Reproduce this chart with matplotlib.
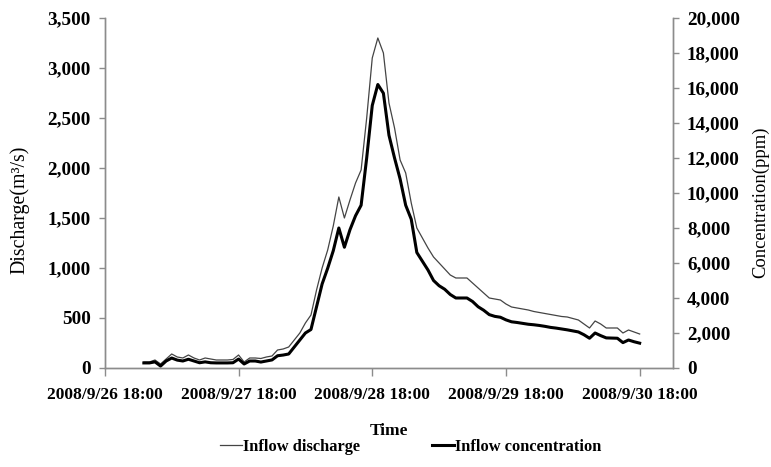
import matplotlib
matplotlib.use("Agg")
import matplotlib.pyplot as plt
import matplotlib.dates as mdates
from matplotlib.ticker import FuncFormatter, MultipleLocator
import pandas as pd

# hourly record, 2008/9/27 01:00 -> 2008/9/30 18:00
start_time = "2008-09-27 01:00"

discharge = [60, 60, 80, 40, 90, 140, 110, 100, 130, 100,
             80, 100, 90, 80, 80, 80, 85, 130, 60, 100,
             100, 95, 110, 120, 180, 190, 210, 280, 350, 450,
             530, 780, 1000, 1180, 1420, 1710, 1500, 1680, 1850, 1980,
             2500, 3100, 3300, 3150, 2650, 2400, 2080, 1950, 1650, 1400,
             1300, 1200, 1110, 1050, 990, 930, 900, 900, 900, 850,
             800, 750, 700, 690, 680, 640, 610, 600, 590, 580,
             565, 555, 545, 535, 525, 515, 510, 495, 480, 440,
             400, 470, 440, 400, 400, 400, 350, 380, 360, 340]

concentration = [290, 290, 350, 110, 400, 570, 450, 400, 500, 400,
                 300, 350, 300, 290, 290, 290, 300, 510, 230, 400,
                 400, 340, 400, 460, 700, 740, 800, 1200, 1600, 2000,
                 2200, 3500, 4800, 5700, 6700, 8000, 6900, 7900, 8700, 9300,
                 12000, 15000, 16200, 15700, 13300, 12000, 10800, 9300, 8500, 6600,
                 6100, 5600, 5000, 4700, 4500, 4200, 4000, 4000, 4000, 3800,
                 3500, 3300, 3050, 2950, 2900, 2750, 2640, 2600, 2550, 2500,
                 2470, 2430, 2380, 2320, 2280, 2230, 2180, 2120, 2060, 1900,
                 1700, 2000, 1850, 1720, 1710, 1700, 1450, 1600, 1500, 1420]

tick_times = ["2008-09-26 18:00", "2008-09-27 18:00", "2008-09-28 18:00",
              "2008-09-29 18:00", "2008-09-30 18:00"]

times = pd.date_range(start_time, periods=len(discharge), freq="h")

serif = ["Liberation Serif", "DejaVu Serif"]
plt.rcParams['font.family'] = serif
axis_gray = "#8c8c8c"

fig = plt.figure(figsize=(7.71, 4.67), dpi=100)
ax = fig.add_axes([0.136, 0.212, 0.737, 0.7495])
ax2 = ax.twinx()

l1, = ax.plot(times, discharge, color="#444444", lw=0.9)
l2, = ax2.plot(times, concentration, color="black", lw=2.2)

ax.set_xlim(pd.Timestamp("2008-09-26 18:00"), pd.Timestamp("2008-10-01 00:00"))
ax.set_ylim(0, 3500)
ax2.set_ylim(0, 20000)
ax.yaxis.set_major_locator(MultipleLocator(500))
ax2.yaxis.set_major_locator(MultipleLocator(2000))
comma = FuncFormatter(lambda v, p: f"{int(v):,}")
ax.yaxis.set_major_formatter(comma)
ax2.yaxis.set_major_formatter(comma)

ax.set_xticks(pd.to_datetime(tick_times))
ax.xaxis.set_major_formatter(mdates.DateFormatter("%Y/%-m/%d %H:%M"))

for a in (ax, ax2):
    a.spines['top'].set_visible(False)
    for s in ('left', 'right', 'bottom'):
        a.spines[s].set_color(axis_gray)
        a.spines[s].set_linewidth(1.0)
    a.tick_params(colors=axis_gray, length=4, width=1, labelcolor="black")
ax.tick_params(axis='x', length=6, pad=8, labelsize=12.5)
ax.tick_params(axis='y', pad=6, labelsize=13.8)
ax2.tick_params(axis='y', pad=6, labelsize=13.8)
for a in (ax, ax2):
    for lab in a.get_yticklabels() + a.get_xticklabels():
        lab.set_fontweight("bold")

ax.set_ylabel("Discharge(m³/s)", fontsize=14.3)
ax.yaxis.set_label_coords(-0.132, 0.451)
ax2.set_ylabel("Concentration(ppm)", fontsize=13.4)
ax2.yaxis.set_label_coords(1.139, 0.474)
ax.set_xlabel("Time", fontsize=12.5, fontweight="bold", labelpad=14)

fig.legend([l1, l2], ["Inflow discharge", "Inflow concentration"],
           loc="lower center", bbox_to_anchor=(0.533, -0.005), ncol=2,
           frameon=False, handlelength=1.35, handletextpad=0.05,
           columnspacing=4.4, prop={"family": serif, "weight": "bold", "size": 11.8})

fig.savefig("out.png", dpi=100)
